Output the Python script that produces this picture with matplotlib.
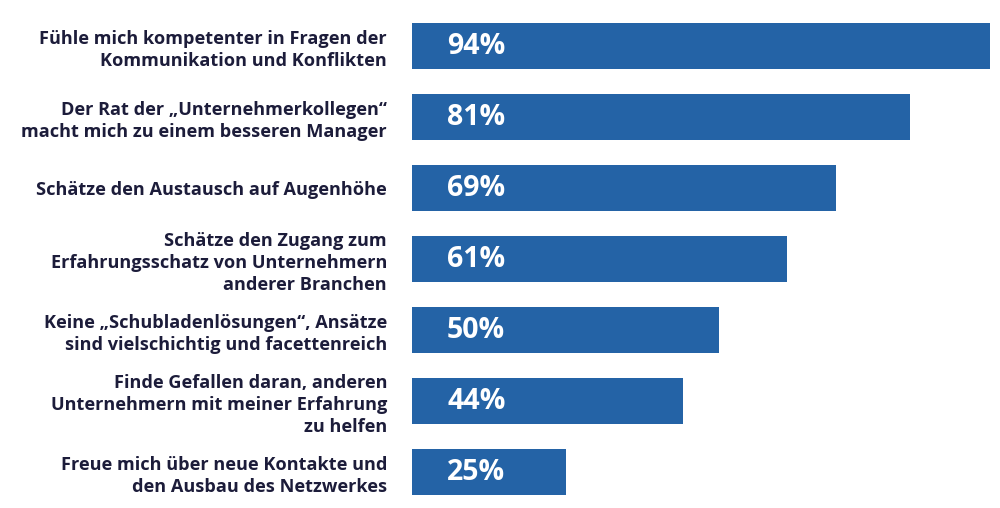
import matplotlib.pyplot as plt

# daten aus der grafik
aussagen = [
    "Fühle mich kompetenter in Fragen der\nKommunikation und Konflikten",
    "Der Rat der „Unternehmerkollegen“\nmacht mich zu einem besseren Manager",
    "Schätze den Austausch auf Augenhöhe",
    "Schätze den Zugang zum\nErfahrungsschatz von Unternehmern\nanderer Branchen",
    "Keine „Schubladenlösungen“, Ansätze\nsind vielschichtig und facettenreich",
    "Finde Gefallen daran, anderen\nUnternehmern mit meiner Erfahrung\nzu helfen",
    "Freue mich über neue Kontakte und\nden Ausbau des Netzwerkes",
]
prozent = [94, 81, 69, 61, 50, 44, 25]

blau = "#2463a6"
textfarbe = "#1c1c3a"
schrift = "Open Sans"

fig = plt.figure(figsize=(10, 5.08), dpi=100)
ax = fig.add_axes([0.412, 0.001, 0.588, 0.978])

pos = list(range(len(prozent)))
ax.barh(pos, prozent, height=0.65, color=blau)

# prozentwerte in die balken schreiben
for p, wert in zip(pos, prozent):
    ax.annotate(f"{wert}%", xy=(0, p), xytext=(35, 0), textcoords="offset pixels",
                ha="left", va="center", color="white", fontsize=20.5,
                fontweight="bold", family=schrift)

ax.set_xlim(0, 94 * 588 / 578)
ax.set_ylim(len(prozent) - 0.5, -0.5)
ax.set_yticks(pos)
ax.set_yticklabels(aussagen, fontsize=13.1, fontweight="bold", family=schrift,
                   color=textfarbe, linespacing=1.27)
ax.tick_params(axis="y", length=0, pad=18)
ax.set_xticks([])
for s in ax.spines.values():
    s.set_visible(False)

plt.savefig("out.png", dpi=100)
